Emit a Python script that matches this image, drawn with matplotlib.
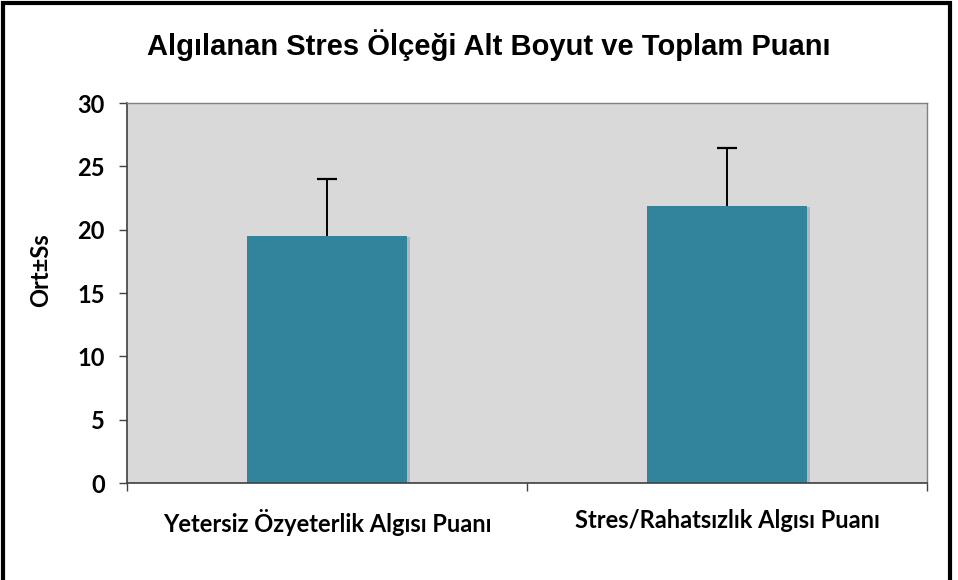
import matplotlib.pyplot as plt
from matplotlib.patches import Rectangle
import matplotlib.patheffects as pe

# Data
categories = ['Yetersiz Özyeterlik Algısı Puanı', 'Stres/Rahatsızlık Algısı Puanı']
means = [19.5, 21.9]
sds = [4.5, 4.55]
yticks = [0, 5, 10, 15, 20, 25, 30]

bar_color = '#31849B'
bg_color = '#D9D9D9'

fig = plt.figure(figsize=(9.58, 5.8), dpi=100)
ax = fig.add_axes([0.1326, 0.1672, 0.835, 0.655])
ax.set_facecolor(bg_color)

x = list(range(len(categories)))
bars = ax.bar(x, means, width=0.4, color=bar_color, zorder=2)
for b in bars:
    b.set_path_effects([pe.SimplePatchShadow(offset=(2, -1), shadow_rgbFace='#777777', alpha=0.35), pe.Normal()])

# upper-only error bars with a cap on top
tops = [m + s for m, s in zip(means, sds)]
ax.vlines(x, means, tops, color='black', linewidth=1.4, zorder=3)
ax.plot(x, tops, linestyle='none', marker='_', markersize=14, markeredgewidth=1.6,
        color='black', zorder=3)

ax.set_xlim(-0.5, 1.5)
ax.set_ylim(0, 30)
ax.set_yticks(yticks)
ax.set_yticklabels([str(t) for t in yticks], fontfamily='Lato', fontweight='bold', fontsize=17)
ax.tick_params(axis='y', direction='out', length=6, width=1, color='#404040', pad=10)

# category boundaries as ticks, labels at centres
ax.set_xticks([-0.5, 0.5, 1.5])
ax.set_xticklabels([])
ax.tick_params(axis='x', which='major', direction='out', length=6, width=1, color='#404040')
ax.set_xticks(x, minor=True)
ax.set_xticklabels(categories, minor=True, fontfamily='Lato', fontweight='bold', fontsize=17)
ax.tick_params(axis='x', which='minor', length=0, pad=19)

for s in ['left', 'bottom']:
    ax.spines[s].set_color('#404040')
    ax.spines[s].set_linewidth(1.2)
for s in ['top', 'right']:
    ax.spines[s].set_color('#808080')
    ax.spines[s].set_linewidth(1)

ax.set_ylabel('Ort±Ss', fontfamily='Lato', fontweight='bold', fontsize=17)
ax.yaxis.set_label_coords(-0.094, 0.56)

fig.text(0.51, 0.922, 'Algılanan Stres Ölçeği Alt Boyut ve Toplam Puanı',
         ha='center', va='center', fontfamily='Liberation Sans', fontweight='bold', fontsize=21)

# outer frame
fig.patches.append(Rectangle((0.003, -0.02), 0.989, 1.015, transform=fig.transFigure,
                             fill=False, edgecolor='black', linewidth=3))

fig.savefig('out.png', dpi=100)
